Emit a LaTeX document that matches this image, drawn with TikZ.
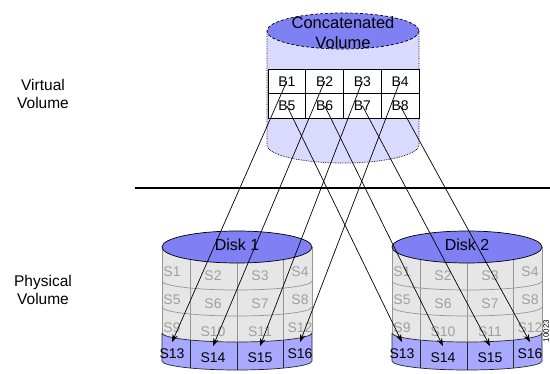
\documentclass[tikz,border=0pt]{standalone}
\usepackage{fontspec}
\setmainfont{Liberation Sans}
\usetikzlibrary{arrows.meta}

\definecolor{topblue}{RGB}{128,128,245}
\definecolor{lavender}{RGB}{218,218,255}
\definecolor{bandblue}{RGB}{168,168,255}
\definecolor{diskgrey}{RGB}{230,230,230}
\definecolor{linegrey}{RGB}{150,150,150}
\definecolor{textgrey}{RGB}{160,160,160}

\tikzset{
  blockcell/.style={draw, fill=white, minimum width=37.75pt, minimum height=24.5pt,
    inner sep=0pt, font=\fontsize{14}{14}\selectfont},
  stripe/.style={inner xsep=1pt, inner ysep=6.5pt, font=\fontsize{14}{14}\selectfont},
  biglabel/.style={align=center, font=\fontsize{15.5}{18}\selectfont},
}

\begin{document}
\begin{tikzpicture}[x=1pt, y=-1pt, >={Stealth[length=8pt, width=5.5pt]}, line width=0.7pt]
    \useasboundingbox (0,0) rectangle (550,374);

    % virtual volume
    \fill[lavender] (267,31) -- (267,145)
        arc[start angle=180, end angle=0, x radius=76, y radius=18] -- (419,31) -- cycle;
    \draw[densely dotted] (267,31) -- (267,145)
        arc[start angle=180, end angle=0, x radius=76, y radius=18] -- (419,31);
    \filldraw[fill=topblue, densely dashed] (343,31) ellipse[x radius=76, y radius=18];
    \node[align=center, font=\fontsize{16.5}{20}\selectfont] (concat) at (343,33) {Concatenated\\Volume};

    \foreach \c in {1,...,4}{
        \pgfmathtruncatemacro\m{\c+4}
        \node[blockcell] (b\c) at ({268+37.75*(\c-0.5)},81.25) {B\c};
        \node[blockcell] (b\m) at ({268+37.75*(\c-0.5)},105.75) {B\m};
    }

    \draw[line width=2.5pt] (135,188) -- (550,188);

    \node[biglabel] (virtual) at (43,94) {Virtual\\Volume};
    \node[biglabel] (physical) at (43,290) {Physical\\Volume};

    % physical disks
    \foreach \d/\cx in {1/237, 2/467}{
        \fill[diskgrey] ({\cx-75},247) -- ({\cx-75},361)
            arc[start angle=180, end angle=0, x radius=75, y radius=9] -- ({\cx+75},247) -- cycle;
        \filldraw[fill=bandblue, draw=black!85] ({\cx-75},333) -- ({\cx-75},361)
            arc[start angle=180, end angle=0, x radius=75, y radius=9] -- ({\cx+75},333)
            arc[start angle=0, end angle=180, x radius=75, y radius=9];
        \draw[linegrey] ({\cx-75},247) -- ({\cx-75},333) ({\cx+75},247) -- ({\cx+75},333);
        \foreach \ly in {281,307}
            \draw[linegrey] ({\cx-75},\ly) arc[start angle=180, end angle=0, x radius=75, y radius=9];
        \foreach \dx/\dy in {-47/7, 0/9, 46/7}{
            \draw[linegrey] ({\cx+\dx},{247+1.78*\dy}) -- ({\cx+\dx},{333+\dy});
            \draw[black!85] ({\cx+\dx},{333+\dy}) -- ({\cx+\dx},{361+\dy});
        }
        \filldraw[fill=topblue] (\cx,247) ellipse[x radius=75, y radius=16];
        \node[font=\fontsize{16}{16}\selectfont] (disk\d) at (\cx,245) {Disk \d};
        \foreach \r/\ry/\col in {1/272/textgrey, 2/300/textgrey, 3/328/textgrey, 4/354/black}
            \foreach \c/\dx/\off in {1/-65/0, 2/-24/4, 3/23/4, 4/63/0}{
                \pgfmathtruncatemacro\n{4*(\r-1)+\c}
                \node[stripe, text=\col] (d\d-s\n) at ({\cx+\dx},{\ry+\off}) {S\n};
            }
    }

    \node[rotate=90, font=\fontsize{8}{8}\selectfont] (fignum) at (546,331) {10023};

    % blocks to stripes
    \foreach \b/\t in {1/d1-s13, 2/d1-s14, 3/d1-s15, 4/d1-s16,
                       5/d2-s13, 6/d2-s14, 7/d2-s15, 8/d2-s16}
        \draw[->] (b\b.center) -- (\t.north);
\end{tikzpicture}
\end{document}
